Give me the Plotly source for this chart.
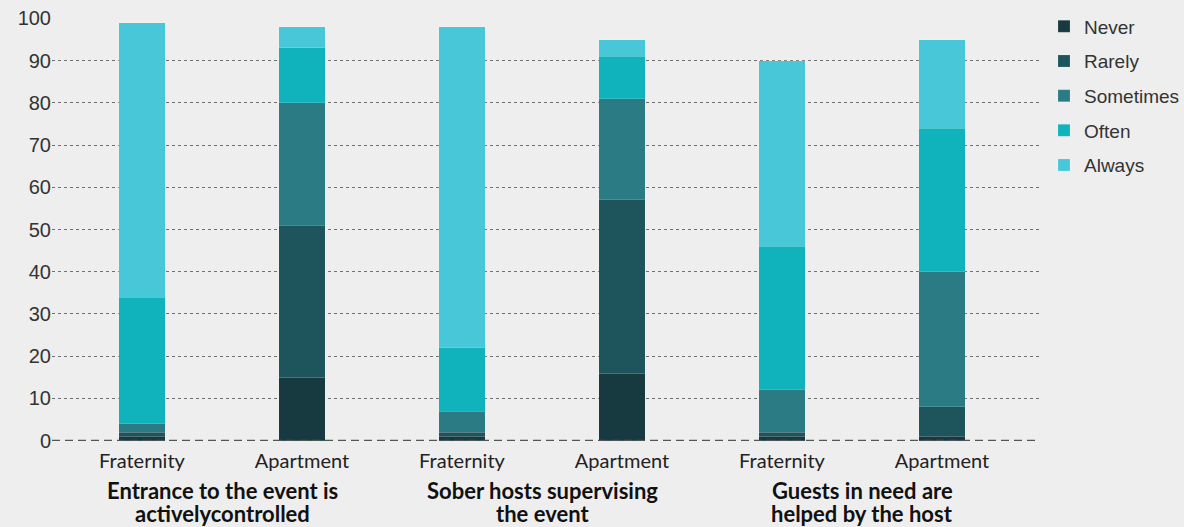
import plotly.graph_objects as go

# sub-categories (bars) and their question groups (one entry per text line)
bar_labels = ["Fraternity", "Apartment", "Fraternity", "Apartment", "Fraternity", "Apartment"]
group_labels = [
    ["Entrance to the event is", "activelycontrolled"],
    ["Sober hosts supervising", "the event"],
    ["Guests in need are", "helped by the host"],
]
y_ticks = [0, 10, 20, 30, 40, 50, 60, 70, 80, 90, 100]

# stacked responses (percent)
never = [1, 15, 1, 16, 1, 1]
rarely = [1, 36, 1, 41, 1, 7]
sometimes = [2, 29, 5, 24, 10, 32]
often = [30, 13, 15, 10, 34, 34]
always = [65, 5, 76, 4, 44, 21]

series = [
    ("Never", never, "#163a40"),
    ("Rarely", rarely, "#1e545c"),
    ("Sometimes", sometimes, "#2b7b85"),
    ("Often", often, "#10b3bc"),
    ("Always", always, "#48c7d8"),
]

x_pos = list(range(len(bar_labels)))

fig = go.Figure()
for name, vals, col in series:
    fig.add_trace(go.Bar(
        x=x_pos, y=vals, name=name,
        marker=dict(color=col, line=dict(color="rgba(255,255,255,0.25)", width=0.6)),
        width=0.29,
        legendgroup=name,
    ))

# group labels centred between each pair of bars, one annotation per line
for g, lines in enumerate(group_labels):
    for k, line in enumerate(lines):
        fig.add_annotation(
            x=2 * g + 0.5, y=0, xref="x", yref="paper",
            yanchor="middle", yshift=-49 - 23 * k,
            text="<b>" + line + "</b>",
            showarrow=False,
            font=dict(family="Lato", size=22, color="#111111"),
        )

# dashed baseline
fig.add_shape(type="line", xref="paper", yref="y", x0=0, x1=1, y0=0, y1=0,
              line=dict(color="#555555", width=1.5, dash="8px,5px"))

fig.update_layout(
    width=1184, height=527,
    barmode="stack",
    paper_bgcolor="#eeeeee",
    plot_bgcolor="#eeeeee",
    margin=dict(l=52, r=144, t=18, b=86, autoexpand=False),
    font=dict(family="Liberation Sans, Arial", color="#333333"),
    legend=dict(
        xref="container", yref="container",
        x=1044 / 1184, y=0.986, xanchor="left", yanchor="top",
        traceorder="grouped", tracegroupgap=7,
        font=dict(size=19, color="#333333"),
        bgcolor="rgba(0,0,0,0)",
    ),
    showlegend=True,
)
fig.update_xaxes(
    range=[-0.5625, 5.6125],
    tickvals=x_pos, ticktext=bar_labels,
    tickfont=dict(family="Lato", size=20, color="#222222"),
    ticklabelstandoff=6,
    showgrid=False, zeroline=False, showline=False, ticks="",
)
fig.update_yaxes(
    range=[-0.1, 100.1],
    tickvals=y_ticks,
    tickfont=dict(size=20, color="#333333"),
    showgrid=True, gridcolor="#707070", griddash="dot", gridwidth=1,
    zeroline=False, showline=False, ticks="",
)

fig.write_html(
    "out.html",
    config={"displayModeBar": False},
    post_script="document.body.style.margin='0';document.body.style.overflow='hidden';",
)
